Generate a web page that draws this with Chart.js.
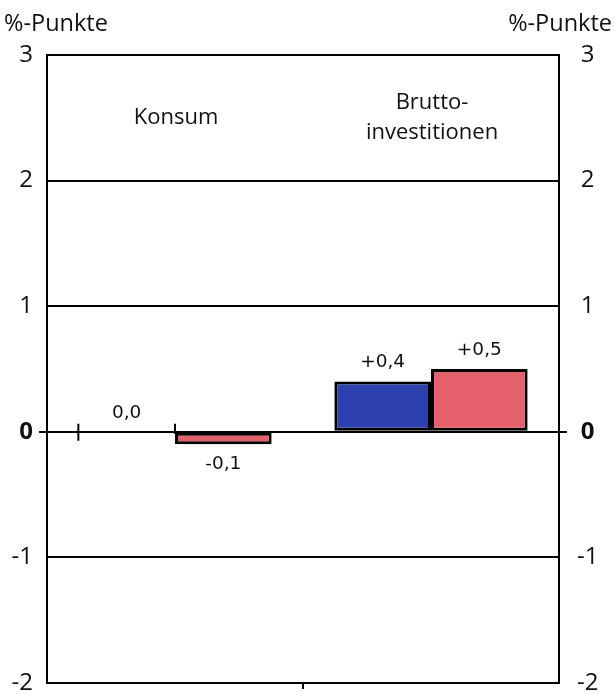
<!DOCTYPE html>
<html>
<head>
<meta charset="utf-8">
<script src="https://cdn.jsdelivr.net/npm/chart.js@4"></script>
<style>
  html, body { margin: 0; padding: 0; background: #fff; }
  #wrap { width: 615px; height: 694px; }
</style>
</head>
<body>
<div id="wrap"><canvas id="chart" width="615" height="694"></canvas></div>
<script>
// data
const categories = [['Konsum'], ['Brutto-', 'investitionen']];
const blueValues = [0.0, 0.4];
const redValues = [-0.1, 0.5];
const yMin = -2;
const yMax = 3;
const unitLabel = '%-Punkte';

const TEXT = '#111';
const AXIS_FONT = 'Open Sans';
const VALUE_FONT = 'DejaVu Sans';

function fmtValue(v) {
  const s = Math.abs(v).toFixed(1).replace('.', ',');
  if (v > 0) return '+' + s;
  if (v < 0) return '-' + s;
  return s;
}

const annotatePlugin = {
  id: 'annotate',
  afterDatasetsDraw(chart) {
    const { ctx, scales } = chart;
    const x = scales.x, y = scales.y;
    ctx.save();
    ctx.fillStyle = TEXT;

    // unit labels on top of both axes
    ctx.font = `23.5px "${AXIS_FONT}"`;
    ctx.textBaseline = 'middle';
    ctx.textAlign = 'left';
    ctx.fillText(unitLabel, 4, 24);
    ctx.textAlign = 'right';
    ctx.fillText(unitLabel, 612, 24);

    // category names inside the plot
    ctx.font = `22px "${AXIS_FONT}"`;
    ctx.textAlign = 'center';
    chart.data.labels.forEach((lines, i) => {
      const cx = x.getPixelForValue(i) + 1;
      const cy = y.getPixelForValue(2.5);
      const lh = 30;
      lines.forEach((ln, k) => {
        ctx.fillText(ln, cx, cy + (k - (lines.length - 1) / 2) * lh);
      });
    });

    // value labels + edge ticks for zero bars
    ctx.font = `18.5px "${VALUE_FONT}"`;
    chart.data.datasets.forEach((ds, di) => {
      const meta = chart.getDatasetMeta(di);
      meta.data.forEach((bar, i) => {
        const v = ds.data[i];
        const ty = v < 0 ? bar.y + 20 : bar.y - 19;
        ctx.fillStyle = TEXT;
        ctx.fillText(fmtValue(v), bar.x, ty);
        if (v === 0) {
          const half = bar.width / 2;
          ctx.strokeStyle = '#000';
          ctx.lineWidth = 2;
          ctx.beginPath();
          ctx.moveTo(bar.x - half, bar.y - 8);
          ctx.lineTo(bar.x - half, bar.y + 9);
          ctx.moveTo(bar.x + half, bar.y - 8);
          ctx.lineTo(bar.x + half, bar.y + 2);
          ctx.stroke();
        }
      });
    });
    ctx.restore();
  },
};

const tickFont = (ctx) => ({
  family: AXIS_FONT,
  size: 24,
  weight: ctx.tick && ctx.tick.value === 0 ? 'bold' : 'normal',
});

const zeroTick = (ctx) => (ctx.tick && ctx.tick.value === 0 ? '#000' : 'rgba(0,0,0,0)');

// keep the y axes from reserving room for half a tick label above/below the plot
function fixYAxis(width) {
  return (s) => {
    s.width = width;
    s.paddingTop = 0;
    s.paddingBottom = 0;
  };
}

new Chart(document.getElementById('chart'), {
  type: 'bar',
  plugins: [annotatePlugin],
  data: {
    labels: categories,
    datasets: [
      {
        data: blueValues,
        backgroundColor: '#2c40ae',
        borderColor: '#000',
        borderWidth: 3,
        borderSkipped: false,
        categoryPercentage: 0.755,
        barPercentage: 1,
      },
      {
        data: redValues,
        backgroundColor: '#e4606a',
        borderColor: '#000',
        borderWidth: 3,
        borderSkipped: false,
        categoryPercentage: 0.755,
        barPercentage: 1,
      },
    ],
  },
  options: {
    responsive: false,
    animation: false,
    layout: { padding: { top: 55, bottom: 5, left: 0, right: 0 } },
    plugins: {
      legend: { display: false },
      tooltip: { enabled: false },
    },
    scales: {
      x: {
        ticks: { display: false },
        border: { display: false },
        grid: {
          offset: true,
          drawOnChartArea: false,
          drawTicks: true,
          tickLength: 6,
          lineWidth: 2,
          color: '#000',
          tickColor: (ctx) => (ctx.index === 1 ? '#000' : 'rgba(0,0,0,0)'),
        },
        afterFit: (s) => { s.height = 6; },
      },
      y: {
        position: 'left',
        min: yMin,
        max: yMax,
        ticks: { stepSize: 1, color: TEXT, font: tickFont, padding: 6 },
        border: { color: '#000', width: 2 },
        grid: {
          color: '#000',
          lineWidth: 2,
          drawTicks: true,
          tickLength: 8,
          tickColor: zeroTick,
        },
        afterFit: fixYAxis(47),
      },
      y2: {
        position: 'right',
        min: yMin,
        max: yMax,
        ticks: { stepSize: 1, color: TEXT, font: tickFont, padding: 10, crossAlign: 'center' },
        border: { color: '#000', width: 2 },
        grid: {
          drawOnChartArea: false,
          color: '#000',
          lineWidth: 2,
          drawTicks: true,
          tickLength: 8,
          tickColor: zeroTick,
        },
        afterFit: fixYAxis(56),
      },
    },
  },
});
</script>
</body>
</html>
